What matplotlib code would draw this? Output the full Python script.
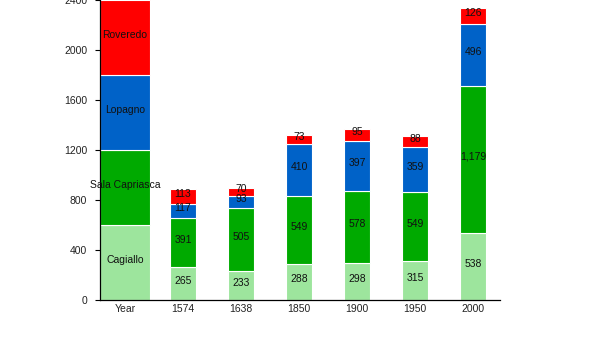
import matplotlib
matplotlib.use("Agg")
import matplotlib.pyplot as plt
import numpy as np

plt.rcParams['font.family'] = ['Liberation Sans', 'DejaVu Sans']

years = ["1574", "1638", "1850", "1900", "1950", "2000"]
places = ["Cagiallo", "Sala Capriasca", "Lopagno", "Roveredo"]
cagiallo = [265, 233, 288, 298, 315, 538]
sala_capriasca = [391, 505, 549, 578, 549, 1179]
lopagno = [117, 93, 410, 397, 359, 496]
roveredo = [113, 70, 73, 95, 88, 126]
# the first column works as a key, one equal block per place
key_blocks = [600, 600, 600, 600]

colors = ["#9de59d", "#00aa00", "#0062c8", "#ff0000"]
series = [cagiallo, sala_capriasca, lopagno, roveredo]

fig = plt.figure(figsize=(6, 3.5), dpi=100)
ax = fig.add_axes([100/600, 50/350, 400/600, 299.5/350])

x = np.arange(1, len(years) + 1)
bottom = np.zeros(len(years))
key_bottom = 0
for name, vals, c, kb in zip(places, series, colors, key_blocks):
    vals = np.array(vals)
    ax.bar(x, vals, 0.45, bottom=bottom, color=c, edgecolor='white', linewidth=0.8)
    for xi, v, b in zip(x, vals, bottom):
        ax.annotate(f"{v:,}", (xi, b + v / 2), xytext=(0, 2), textcoords='offset points',
                    ha='center', va='center', fontsize=7.5, color='#111111')
    bottom += vals

    ax.bar(0, kb, 0.87, bottom=key_bottom, color=c, edgecolor='white', linewidth=0.8)
    ax.annotate(name, (0, key_bottom + kb / 2), xytext=(0, 2), textcoords='offset points',
                ha='center', va='center', fontsize=7.5, color='#111111')
    key_bottom += kb

ax.set_xlim(-25/58, 6 + 27/58)
ax.set_ylim(0, 2400)
ax.set_yticks(np.arange(0, 2401, 400))
ax.set_xticks(np.arange(0, 7))
ax.set_xticklabels(["Year"] + years)
ax.tick_params(axis='x', length=0, pad=3, labelsize=7.5, colors='#222222')
ax.tick_params(axis='y', length=3.6, width=0.8, pad=5.5, labelsize=7.5, colors='#222222')
ax.tick_params(axis='y', color='black')
for s in ['top', 'right']:
    ax.spines[s].set_visible(False)
ax.spines['left'].set_linewidth(0.9)
ax.spines['bottom'].set_linewidth(0.9)

fig.savefig("out.png", dpi=100)
